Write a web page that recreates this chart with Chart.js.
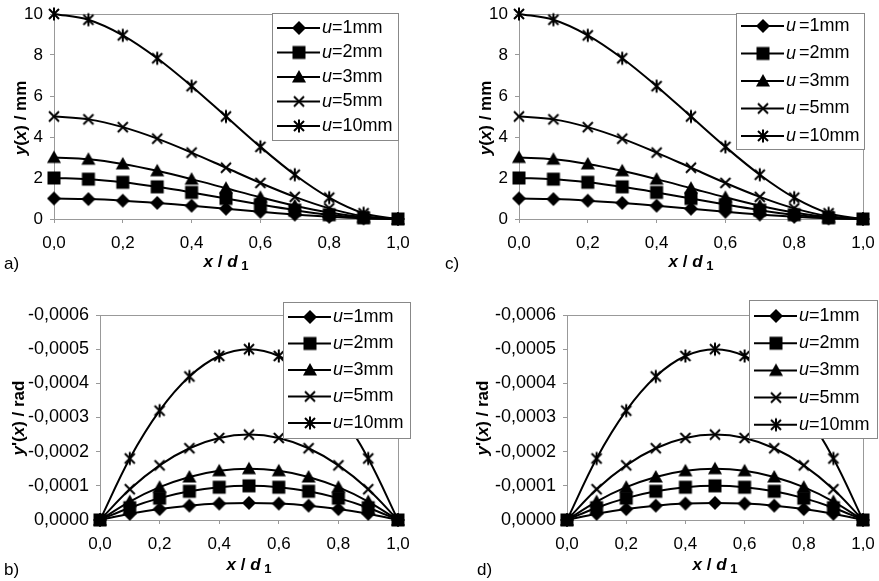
<!DOCTYPE html>
<html>
<head>
<meta charset="utf-8">
<script src="https://cdn.jsdelivr.net/npm/chart.js@4.4.0/dist/chart.umd.min.js"></script>
<style>
html, body { margin: 0; padding: 0; background: #fff; }
#wrap { position: relative; width: 879px; height: 581px; overflow: hidden; }
canvas { position: absolute; }
</style>
</head>
<body>
<div id="wrap">
  <canvas id="pa"></canvas>
  <canvas id="pb"></canvas>
  <canvas id="pc"></canvas>
  <canvas id="pd"></canvas>
</div>
<script>
// x / d1 positions
const xRatio = [0.0, 0.1, 0.2, 0.3, 0.4, 0.5, 0.6, 0.7, 0.8, 0.9, 1.0];
const seriesLabels = ['u=1mm', 'u=2mm', 'u=3mm', 'u=5mm', 'u=10mm'];

// y(x) / mm
const deflU1  = [1, 0.972, 0.896, 0.784, 0.648, 0.5, 0.352, 0.216, 0.104, 0.028, 0];
const deflU2  = [2, 1.944, 1.792, 1.568, 1.296, 1.0, 0.704, 0.432, 0.208, 0.056, 0];
const deflU3  = [3, 2.916, 2.688, 2.352, 1.944, 1.5, 1.056, 0.648, 0.312, 0.084, 0];
const deflU5  = [5, 4.86, 4.48, 3.92, 3.24, 2.5, 1.76, 1.08, 0.52, 0.14, 0];
const deflU10 = [10, 9.72, 8.96, 7.84, 6.48, 5.0, 3.52, 2.16, 1.04, 0.28, 0];

// y'(x) / rad
const slopeU1  = [0, -0.000018, -0.000032, -0.000042, -0.000048, -0.00005, -0.000048, -0.000042, -0.000032, -0.000018, 0];
const slopeU2  = [0, -0.000036, -0.000064, -0.000084, -0.000096, -0.0001, -0.000096, -0.000084, -0.000064, -0.000036, 0];
const slopeU3  = [0, -0.000054, -0.000096, -0.000126, -0.000144, -0.00015, -0.000144, -0.000126, -0.000096, -0.000054, 0];
const slopeU5  = [0, -0.00009, -0.00016, -0.00021, -0.00024, -0.00025, -0.00024, -0.00021, -0.00016, -0.00009, 0];
const slopeU10 = [0, -0.00018, -0.00032, -0.00042, -0.00048, -0.0005, -0.00048, -0.00042, -0.00032, -0.00018, 0];

const deflSeries = [deflU1, deflU2, deflU3, deflU5, deflU10];
const slopeSeries = [slopeU1, slopeU2, slopeU3, slopeU5, slopeU10];

const FAM = '"Liberation Sans", Arial, sans-serif';
const GRAY = '#999';

function makeMarker(kind) {
  const c = document.createElement('canvas');
  c.width = c.height = 16;
  const g = c.getContext('2d');
  const m = 8;
  g.fillStyle = g.strokeStyle = '#000';
  g.lineWidth = 2;
  g.beginPath();
  if (kind === 'diamond') {
    g.moveTo(m, m - 7); g.lineTo(m + 7, m); g.lineTo(m, m + 7); g.lineTo(m - 7, m);
    g.closePath(); g.fill();
  } else if (kind === 'square') {
    g.fillRect(m - 6.5, m - 6.5, 13, 13);
  } else if (kind === 'triangle') {
    g.moveTo(m, m - 7); g.lineTo(m + 7, m + 5.5); g.lineTo(m - 7, m + 5.5);
    g.closePath(); g.fill();
  } else {
    g.moveTo(m - 5, m - 5); g.lineTo(m + 5, m + 5);
    g.moveTo(m + 5, m - 5); g.lineTo(m - 5, m + 5);
    if (kind === 'star') { g.moveTo(m, m - 6.5); g.lineTo(m, m + 6.5); }
    g.stroke();
  }
  return c;
}
const markers = ['diamond', 'square', 'triangle', 'x', 'star'].map(makeMarker);

const panels = [
  { id: 'pa', box: [0, 0, 440, 290], plot: [54, 398, 14, 219], kind: 'defl', tag: 'a)', tagPos: [4, 264],
    legend: { x: 272, y: 13, w: 126, h: 127, first: 28, step: 24.5, gap: 0 }, ytitle: [21, 118], xtitle: [226, 262] },
  { id: 'pb', box: [0, 290, 440, 291], plot: [100, 398, 315, 520], kind: 'slope', tag: 'b)', tagPos: [4, 570],
    legend: { x: 283, y: 302, w: 127, h: 136, first: 317, step: 26.5, gap: 0 }, ytitle: [19, 418], xtitle: [249, 565] },
  { id: 'pc', box: [440, 0, 439, 290], plot: [519, 863, 14, 219], kind: 'defl', tag: 'c)', tagPos: [445, 264],
    legend: { x: 736, y: 13, w: 128, h: 136, first: 26, step: 27.5, gap: 3 }, ytitle: [486, 118], xtitle: [691, 262] },
  { id: 'pd', box: [440, 290, 439, 291], plot: [567, 863, 315, 520], kind: 'slope', tag: 'd)', tagPos: [477, 570],
    legend: { x: 749, y: 300, w: 128, h: 138, first: 316, step: 27.2, gap: 0 }, ytitle: [483, 418], xtitle: [715, 565] }
];

function drawRuns(ctx, runs, x, y, rotate) {
  ctx.save();
  ctx.translate(x, y);
  if (rotate) ctx.rotate(-Math.PI / 2);
  ctx.textBaseline = 'middle';
  ctx.textAlign = 'left';
  ctx.fillStyle = '#000';
  let total = 0;
  runs.forEach(r => { ctx.font = r.f; total += ctx.measureText(r.t).width; });
  let pos = -total / 2;
  runs.forEach(r => {
    ctx.font = r.f;
    ctx.fillText(r.t, pos, r.dy || 0);
    pos += ctx.measureText(r.t).width;
  });
  ctx.restore();
}

function fmtSlope(v) {
  const s = Math.abs(v).toFixed(4).replace('.', ',');
  return (v < -1e-9 ? '-' : '') + s;
}

function buildChart(p) {
  const [cx, cy, cw, ch] = p.box;
  const [L, R, T, B] = p.plot;
  const canvas = document.getElementById(p.id);
  canvas.width = cw;
  canvas.height = ch;
  canvas.style.left = cx + 'px';
  canvas.style.top = cy + 'px';
  const defl = p.kind === 'defl';
  const values = defl ? deflSeries : slopeSeries;

  const datasets = seriesLabels.map((label, i) => ({
    label: label,
    data: xRatio.map((x, j) => ({ x: x, y: values[i][j] })),
    borderColor: '#000',
    backgroundColor: '#000',
    borderWidth: 2,
    tension: 0.35,
    pointStyle: markers[i],
    pointRadius: 7,
    fill: false,
    clip: false
  }));

  const bi = 'italic bold 17px ' + FAM;
  const b = 'bold 17px ' + FAM;
  const yTitleRuns = defl
    ? [{ t: 'y', f: bi }, { t: '(', f: b }, { t: 'x', f: bi }, { t: ') / mm', f: b }]
    : [{ t: 'y', f: bi }, { t: "'(", f: b }, { t: 'x', f: bi }, { t: ') / rad', f: b }];
  const xTitleRuns = [{ t: 'x', f: bi }, { t: ' / ', f: b }, { t: 'd', f: bi }, { t: ' 1', f: 'bold 13px ' + FAM, dy: 4 }];

  const decorations = {
    id: 'decor',
    beforeDatasetsDraw(chart) {
      const ctx = chart.ctx, a = chart.chartArea;
      ctx.save();
      ctx.strokeStyle = GRAY;
      ctx.lineWidth = 1;
      ctx.strokeRect(Math.round(a.left) + 0.5, Math.round(a.top) + 0.5,
        Math.round(a.right - a.left), Math.round(a.bottom - a.top));
      ctx.restore();
    },
    afterDatasetsDraw(chart) {
      const ctx = chart.ctx, lg = p.legend;
      const lx = lg.x - cx, ly = lg.y - cy;
      ctx.save();
      ctx.fillStyle = '#fff';
      ctx.fillRect(lx, ly, lg.w, lg.h);
      ctx.strokeStyle = '#888';
      ctx.lineWidth = 1;
      ctx.strokeRect(lx + 0.5, ly + 0.5, lg.w, lg.h);
      seriesLabels.forEach((label, i) => {
        const yy = lg.first - cy + i * lg.step;
        ctx.strokeStyle = '#000';
        ctx.lineWidth = 2;
        ctx.beginPath();
        ctx.moveTo(lx + 5, yy);
        ctx.lineTo(lx + 48, yy);
        ctx.stroke();
        const mk = markers[i];
        ctx.drawImage(mk, lx + 27 - mk.width / 2, yy - mk.height / 2);
        ctx.fillStyle = '#000';
        ctx.textBaseline = 'middle';
        ctx.textAlign = 'left';
        ctx.font = 'italic 18px ' + FAM;
        const tx = lx + 50;
        ctx.fillText(label.charAt(0), tx, yy);
        const w = ctx.measureText(label.charAt(0)).width;
        ctx.font = '18px ' + FAM;
        ctx.fillText(label.slice(1), tx + w + lg.gap, yy);
      });
      ctx.restore();
    },
    afterDraw(chart) {
      const ctx = chart.ctx;
      drawRuns(ctx, yTitleRuns, p.ytitle[0] - cx, p.ytitle[1] - cy, true);
      drawRuns(ctx, xTitleRuns, p.xtitle[0] - cx, p.xtitle[1] - cy, false);
      ctx.save();
      ctx.fillStyle = '#000';
      ctx.font = '17px ' + FAM;
      ctx.textBaseline = 'middle';
      ctx.textAlign = 'left';
      ctx.fillText(p.tag, p.tagPos[0] - cx, p.tagPos[1] - cy);
      ctx.restore();
    }
  };

  const tickFont = { family: FAM, size: 17 };
  const yScale = defl
    ? { min: 0, max: 10, ticks: { stepSize: 2, callback: v => String(Math.round(v)) } }
    : { min: -0.0006, max: 0, reverse: true, ticks: { stepSize: 0.0001, callback: v => fmtSlope(v) } };
  Object.assign(yScale.ticks, { font: { family: FAM, size: defl ? 17 : 18 }, color: '#000', padding: 7 });
  Object.assign(yScale, {
    grid: { drawOnChartArea: false, drawTicks: true, tickLength: 4, color: GRAY },
    border: { display: true, color: GRAY },
    afterFit: s => { s.width = L - cx; s.paddingTop = 0; s.paddingBottom = 0; }
  });

  return new Chart(canvas, {
    type: 'line',
    data: { datasets: datasets },
    options: {
      responsive: false,
      animation: false,
      events: [],
      layout: { padding: { left: 0, right: cx + cw - R, top: T - cy, bottom: 0 } },
      plugins: { legend: { display: false }, tooltip: { enabled: false } },
      scales: {
        x: {
          type: 'linear',
          min: 0,
          max: 1,
          ticks: { stepSize: 0.2, font: tickFont, color: '#000', padding: 10,
            callback: v => v.toFixed(1).replace('.', ',') },
          grid: { drawOnChartArea: false, drawTicks: true, tickLength: 4, color: GRAY },
          border: { display: true, color: GRAY },
          afterFit: s => { s.height = cy + ch - B; s.paddingLeft = 0; s.paddingRight = 0; }
        },
        y: yScale
      }
    },
    plugins: [decorations]
  });
}

panels.forEach(buildChart);
</script>
</body>
</html>
